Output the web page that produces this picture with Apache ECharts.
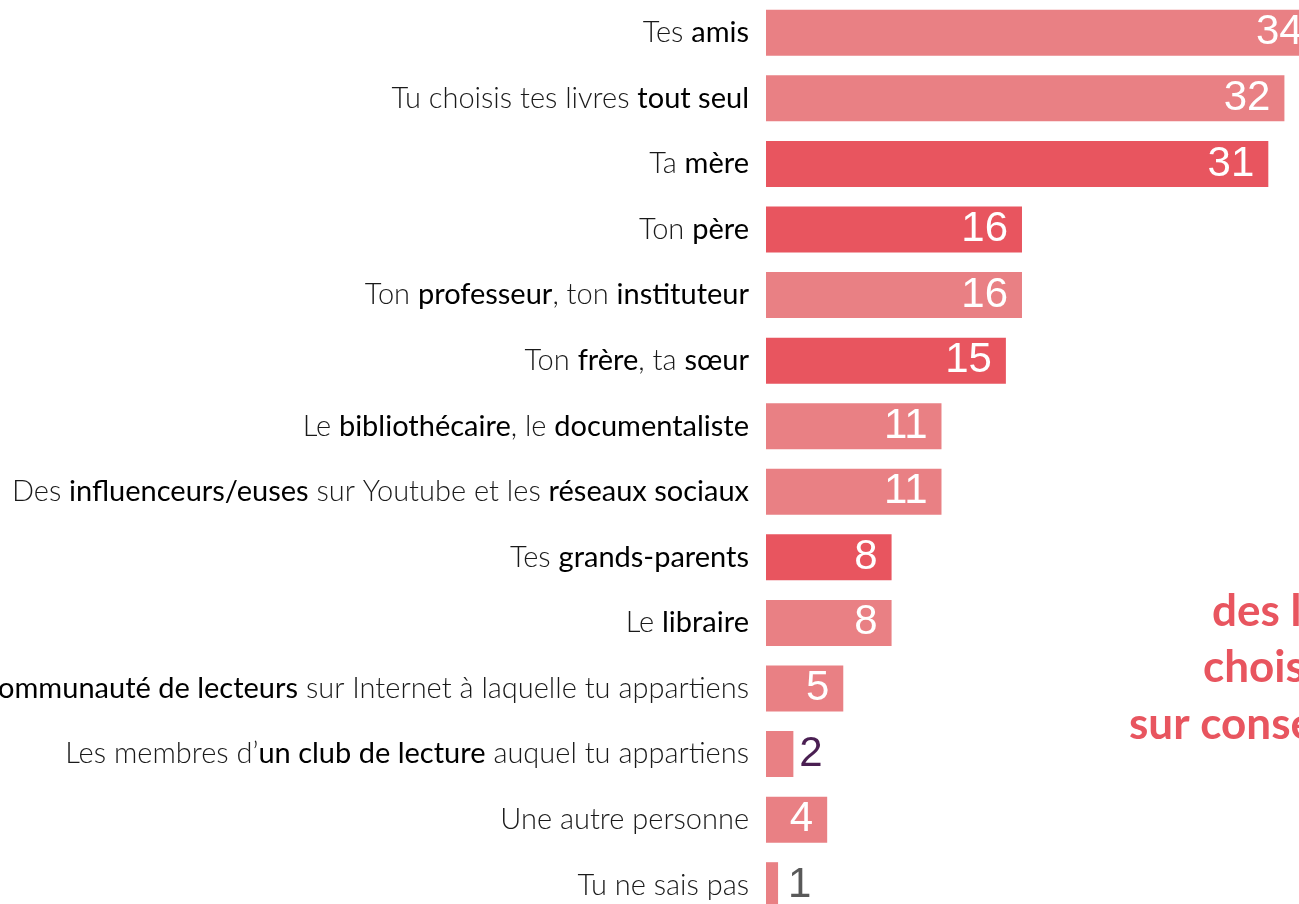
<!DOCTYPE html>
<html>
<head>
<meta charset="utf-8">
<script src="https://cdn.jsdelivr.net/npm/echarts@6/dist/echarts.min.js"></script>
<style>
html,body{margin:0;padding:0;background:#fff;}
#chart{width:1299px;height:904px;}
</style>
</head>
<body>
<div id="chart"></div>
<script>
// Categories: segments wrapped in ** ** are bold
const categories = [
  "Tes **amis**",
  "Tu choisis tes livres **tout seul**",
  "Ta **mère**",
  "Ton **père**",
  "Ton **professeur**, ton **instituteur**",
  "Ton **frère**, ta **sœur**",
  "Le **bibliothécaire**, le **documentaliste**",
  "Des **influenceurs/euses** sur Youtube et les **réseaux sociaux**",
  "Tes **grands-parents**",
  "Le **libraire**",
  "Les membres d’**une communauté de lecteurs** sur Internet à laquelle tu appartiens",
  "Les membres d’**un club de lecture** auquel tu appartiens",
  "Une autre personne",
  "Tu ne sais pas"
];
const values = [34.2, 32.2, 31.2, 15.9, 15.9, 14.9, 10.9, 10.9, 7.8, 7.8, 4.8, 1.7, 3.8, 0.75];
// family members use the darker shade
const isFamily = [false, false, true, true, false, true, false, false, true, false, false, false, false, false];
const sideTextLines = ["des livres", "choisis", "sur conseil"];

const LIGHT = '#E98084';
const DARK = '#E8555F';

function labelFmt(s) {
  const parts = s.split('**');
  return parts.map((p, i) => p === '' ? '' : (i % 2 === 1 ? '{b|' + p + '}' : '{n|' + p + '}')).join('');
}

const chart = echarts.init(document.getElementById('chart'), null, {renderer: 'canvas'});
const rowH = 65.57;
chart.setOption({
  animation: false,
  grid: {left: 766, top: 0, height: rowH * categories.length, width: 644, containLabel: false, outerBoundsMode: 'none'},
  xAxis: {type: 'value', min: 0, max: 40, show: false},
  yAxis: {
    type: 'category', data: categories, inverse: true,
    axisLine: {show: false}, axisTick: {show: false}, splitLine: {show: false},
    axisLabel: {
      margin: 17,
      hideOverlap: false,
      formatter: labelFmt,
      rich: {
        n: {fontFamily: 'Lato', fontWeight: 300, fontSize: 29, color: '#1a1a1a'},
        b: {fontFamily: 'Lato', fontWeight: 'normal', fontSize: 29, color: '#000'}
      }
    }
  },
  series: [{
    type: 'bar',
    barWidth: 46,
    data: values.map((v, i) => {
      const d = {value: v, itemStyle: {color: isFamily[i] ? DARK : LIGHT}};
      if (v < 2.5) {
        d.label = {position: 'right', distance: i === 13 ? 10 : 6, color: i === 11 ? '#4A1F52' : '#595959'};
      }
      return d;
    }),
    label: {
      show: true, position: 'insideRight', distance: 14,
      fontFamily: 'Liberation Sans, Arial', fontSize: 42, color: '#fff',
      formatter: p => String(Math.round(p.value))
    }
  }],
  graphic: sideTextLines.map((t, i) => ({
    type: 'text',
    x: [1212, 1203, 1129][i],
    y: [612, 668, 725][i],
    style: {text: t, fill: DARK, font: 'bold 44px Lato', textVerticalAlign: 'middle', verticalAlign: 'middle'}
  }))
});
</script>
</body>
</html>
